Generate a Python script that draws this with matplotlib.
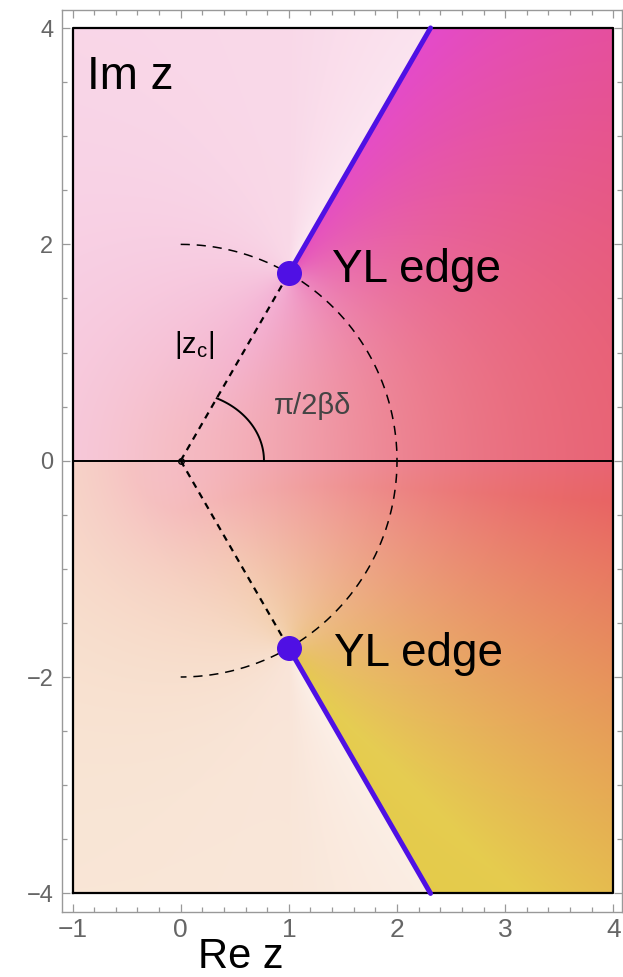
"""Yang-Lee edges in the complex z plane."""

import numpy as np
import matplotlib
matplotlib.use('Agg')
import matplotlib.pyplot as plt
from matplotlib.colors import hsv_to_rgb

plt.rcParams['font.family'] = ['Liberation Sans', 'DejaVu Sans']

# data
edge_radius = 2.0            # |z_c|
edge_angle_deg = 60.0        # pi / (2 beta delta)
cut_radius = [2.0, 4.62]     # branch cut along the ray, out to the frame
angle_mark_axes = [0.77, 0.64]
box_x = [-1.0, 4.0]
box_y = [-4.0, 4.0]
x_ticks = [-1, 0, 1, 2, 3, 4]
y_ticks = [-4, -2, 0, 2, 4]

edge_phi = np.deg2rad(edge_angle_deg)
z_edge = edge_radius * np.exp(1j * edge_phi)
edges = [z_edge, np.conj(z_edge)]


def background(xs, ys):
  """Colour field: strong on the right sheet, pale beyond the cuts."""
  X, Y = np.meshgrid(xs, ys)
  Z = X + 1j * Y
  z1, z2 = edges
  # arguments with cuts running outward along the two rays
  a1 = np.angle(-(Z - z1) * np.exp(-1j * edge_phi)) - 2 * edge_phi
  a2 = np.angle(-(Z - z2) * np.exp(1j * edge_phi)) + 2 * edge_phi
  f = 1 + (a1 - a2) / (2 * np.pi)
  m = np.where(f > 0, 0.2 + 0.8 * np.clip(f, 0, 1) ** 1.5, 0.2 + 1.2 * f)
  m = np.clip(m, 0.08, 1.0)
  # hue turns from magenta (top) through red to yellow (bottom)
  r2 = np.abs(Z) ** 2
  u = np.clip(np.angle(Z) / edge_phi, -1, 1)
  shift = np.where(Y > 0, 45.0 * u ** 2, 70.0 * np.sign(u) * np.abs(u) ** 0.85)
  shift = shift * r2 / (r2 + 1) * (0.5 + 0.5 * np.clip(f, 0, 1))
  shift = np.maximum(shift, -58)
  hue = ((352 - shift) % 360) / 360.0
  hsv = np.stack([hue, np.full_like(hue, 0.72), np.full_like(hue, 0.89)], -1)
  rgb = hsv_to_rgb(hsv)
  return 1 - m[..., None] * (1 - rgb)


figure = plt.figure(figsize=(6.23, 9.77), dpi=100)
axes = figure.add_axes([61.7 / 623, (977 - 911.7) / 977,
                        (622 - 61.7) / 623, (911.7 - 10) / 977])

xs = np.linspace(box_x[0], box_x[1], 500)
ys = np.linspace(box_y[0], box_y[1], 800)
axes.imshow(background(xs, ys), origin='lower', aspect='auto',
            extent=[box_x[0], box_x[1], box_y[0], box_y[1]],
            interpolation='bilinear', zorder=0)

# frame of the plotted region and real axis
axes.plot([box_x[0], box_x[1], box_x[1], box_x[0], box_x[0]],
          [box_y[0], box_y[0], box_y[1], box_y[1], box_y[0]],
          color='black', lw=1.6, zorder=3)
axes.plot(box_x, [0, 0], color='black', lw=1.4, zorder=3)

# |z| = |z_c| circle
t = np.linspace(np.pi / 2, -np.pi / 2, 200)
axes.plot(edge_radius * np.cos(t), edge_radius * np.sin(t), color='black',
          lw=1.1, dashes=(6, 4.5), zorder=2)

# rays from origin to the edges
for z in edges:
  axes.plot([0, z.real], [0, z.imag], color='black', lw=1.6,
            dashes=(3, 2.5), zorder=2)
axes.plot(0, 0, 'o', ms=4, mfc='none', mec='black', mew=1, zorder=3)

# angle marker, ending on the upper ray
a, b = angle_mark_axes
t_end = np.arctan2(a * np.tan(edge_phi), b)
t = np.linspace(0, t_end, 60)
axes.plot(a * np.cos(t), b * np.sin(t), color='black', lw=1.4, zorder=2)

# branch cuts and edges
for sign in (1, -1):
  r = np.array(cut_radius)
  axes.plot(r * np.cos(edge_phi), sign * r * np.sin(edge_phi),
            color='#4f10e4', lw=3.6, solid_capstyle='round', zorder=4)
for z in edges:
  axes.plot(z.real, z.imag, 'o', ms=17, color='#4f10e4', zorder=5)

# labels
axes.text(-0.865, 3.432, 'Im z', fontsize=33, va='baseline', ha='left')
axes.text(1.40, 1.65, 'YL edge', fontsize=33, va='baseline', ha='left')
axes.text(1.42, -1.896, 'YL edge', fontsize=33, va='baseline', ha='left')
axes.text(-0.06, 1.0, '|z$_\\mathregular{c}$|', fontsize=21,
          va='baseline', ha='left')
axes.text(0.86, 0.432, 'π/2βδ', fontsize=21, color='#444444',
          va='baseline', ha='left')
figure.text(241 / 623, 1 - 968 / 977, 'Re z', fontsize=30,
            ha='center', va='baseline')

# format
axes.set_xlim(-1.1, 4.08)
axes.set_ylim(-4.17, 4.167)
axes.set_xticks(x_ticks)
axes.set_yticks(y_ticks)
axes.set_xticks(np.arange(-1, 4.01, 0.2), minor=True)
axes.set_yticks(np.arange(-4, 4.01, 0.5), minor=True)
axes.tick_params(which='both', direction='in', top=True, right=True,
                 color='#999999', width=0.9)
axes.tick_params(which='major', length=6)
axes.tick_params(which='minor', length=3.5)
axes.tick_params(axis='x', labelsize=19, labelcolor='#666666', pad=4.5)
axes.tick_params(axis='y', labelsize=17, labelcolor='#666666', pad=6)
for spine in axes.spines.values():
  spine.set_color('#999999')
  spine.set_linewidth(1.0)

figure.savefig('out.png', dpi=100)
